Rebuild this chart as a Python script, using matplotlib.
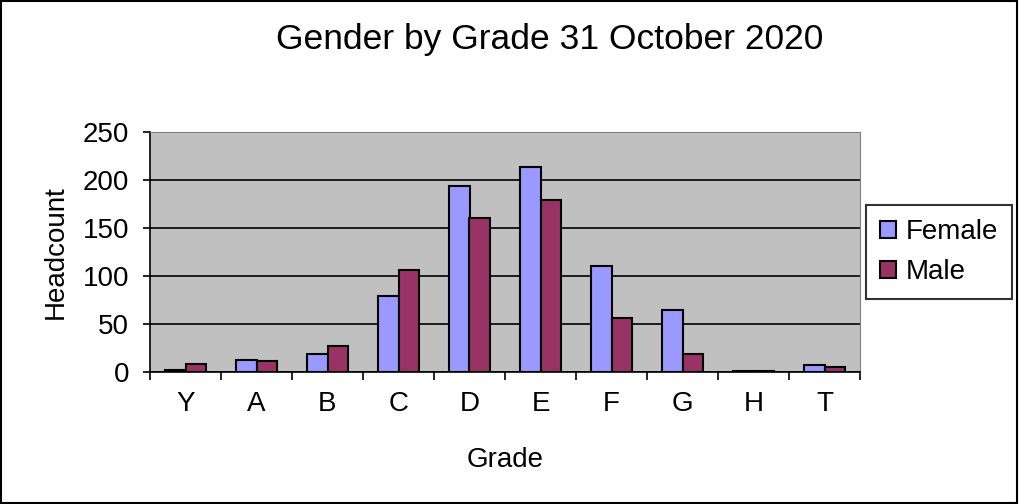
import matplotlib.pyplot as plt
import numpy as np
from matplotlib.patches import Rectangle

grades = ['Y', 'A', 'B', 'C', 'D', 'E', 'F', 'G', 'H', 'T']
female = [2, 13, 19, 79, 194, 214, 110, 65, 1, 7]
male = [8, 11, 27, 106, 160, 179, 56, 19, 1, 5]

plt.rcParams['font.family'] = ['Liberation Sans', 'DejaVu Sans']

fig = plt.figure(figsize=(10.19, 5.04), dpi=100)
ax = fig.add_axes([150 / 1019, 1 - 372 / 504, 710 / 1019, 240 / 504])

idx = np.arange(len(grades))
w = 0.29
ax.bar(idx - w / 2, female, w, color='#9999FF', edgecolor='black', linewidth=1.5, label='Female', zorder=3)
ax.bar(idx + w / 2, male, w, color='#993366', edgecolor='black', linewidth=1.5, label='Male', zorder=3)

ax.set_facecolor('#C0C0C0')
ax.set_xlim(-0.5, len(grades) - 0.5)
ax.set_ylim(0, 250)
ax.set_yticks(np.arange(0, 251, 50))
ax.yaxis.grid(True, color='black', linewidth=1.2, zorder=1)
ax.set_axisbelow(True)

ax.set_xticks(idx)
ax.set_xticklabels(grades, fontsize=20)
ax.set_xticks(np.arange(-0.5, len(grades), 1), minor=True)
ax.tick_params(axis='x', which='major', length=0, pad=14)
ax.tick_params(axis='x', which='minor', length=6, width=1.2, direction='out')
ax.tick_params(axis='y', labelsize=20, length=5, width=1.2, direction='out', pad=10)

for s in ['top', 'right']:
    ax.spines[s].set_color('#808080')
for s in ['left', 'bottom']:
    ax.spines[s].set_linewidth(1.2)

ax.set_xlabel('Grade', fontsize=20, labelpad=21)
ax.set_ylabel('Headcount', fontsize=20, labelpad=10)

fig.text(550 / 1019, 1 - 39 / 504, 'Gender by Grade 31 October 2020', fontsize=25.5, ha='center', va='center')

leg = ax.legend(loc='center left', bbox_to_anchor=(866 / 1019, 1 - 252 / 504), bbox_transform=fig.transFigure,
                fontsize=20, frameon=True, fancybox=False, edgecolor='black', handlelength=0.58,
                handleheight=0.58, handletextpad=0.35, borderpad=0.5, labelspacing=0.5, borderaxespad=0)
leg.get_frame().set_linewidth(1.5)

fig.patches.append(Rectangle((0.001, 0.002), 0.997, 0.996, transform=fig.transFigure, fill=False,
                             edgecolor='black', linewidth=1.5))

fig.savefig('out.png', dpi=100)
